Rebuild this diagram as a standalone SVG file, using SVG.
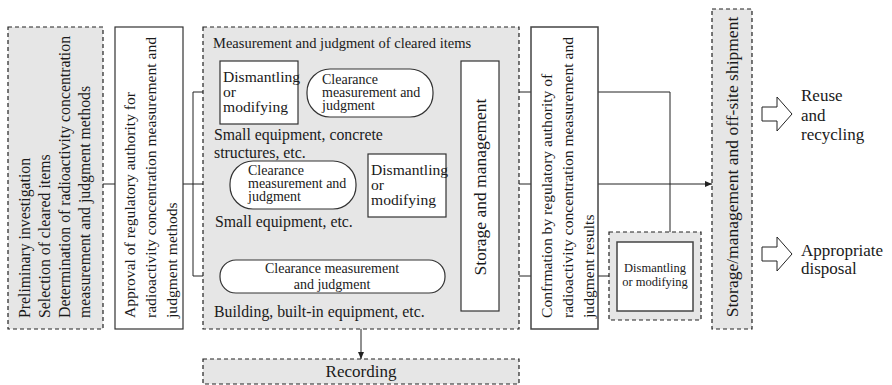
<svg xmlns="http://www.w3.org/2000/svg" width="892" height="385" viewBox="0 0 892 385" font-family="'Liberation Serif', 'DejaVu Serif', serif">
<style>
text{font-family:'Liberation Serif','DejaVu Serif',serif;fill:#1a1a1a}
.dash{fill:#e6e6e6;stroke:#222;stroke-width:1.2;stroke-dasharray:4 3}
.box{fill:#fff;stroke:#333;stroke-width:1.2}
.ln{fill:none;stroke:#222;stroke-width:1}
.t155{font-size:15.6px}
.t14{font-size:14px}
.t145{font-size:14.5px}
.t16{font-size:15.8px}
.t17{font-size:17px}
.t175{font-size:17.5px}
.t125{font-size:12.5px}
.barrow{fill:#fff;stroke:#222;stroke-width:1}
</style>
<defs>
<marker id="ah" markerWidth="8" markerHeight="6" refX="7" refY="3" orient="auto" markerUnits="userSpaceOnUse">
<path d="M0,0 L7,3 L0,6 Z" fill="#222"/>
</marker>
</defs>

<g id="connectors">
<line class="ln" x1="103" y1="184" x2="115" y2="184"/>
<line class="ln" x1="183" y1="184" x2="230" y2="184"/>
<line class="ln" x1="193" y1="92" x2="193" y2="276"/>
<line class="ln" x1="193" y1="92" x2="220" y2="92"/>
<line class="ln" x1="193" y1="276" x2="220" y2="276"/>
<line class="ln" x1="298" y1="92" x2="307" y2="92"/>
<line class="ln" x1="433" y1="92" x2="461" y2="92"/>
<line class="ln" x1="356" y1="184" x2="368" y2="184"/>
<line class="ln" x1="446" y1="184" x2="461" y2="184"/>
<line class="ln" x1="445" y1="276" x2="461" y2="276"/>
<line class="ln" x1="499" y1="92" x2="531" y2="92"/>
<line class="ln" x1="499" y1="184" x2="531" y2="184"/>
<line class="ln" x1="499" y1="276" x2="531" y2="276"/>
<polyline class="ln" points="598,92 670,92 670,232"/>
<line class="ln" x1="598" y1="184" x2="712" y2="184" marker-end="url(#ah)"/>
<line class="ln" x1="598" y1="276" x2="609" y2="276"/>
<line class="ln" x1="361" y1="329" x2="361" y2="359" marker-end="url(#ah)"/>
</g>

<g id="preliminary">
<rect class="dash" x="8" y="27" width="95" height="302"/>
<g class="t16">
<text transform="translate(30,318) rotate(-90)">Preliminary investigation</text>
<text transform="translate(50,318) rotate(-90)">Selection of cleared items</text>
<text transform="translate(70,318) rotate(-90)">Determination of radioactivity concentration</text>
<text transform="translate(90,318) rotate(-90)">measurement and judgment methods</text>
</g>
</g>

<g id="approval">
<rect class="box" x="115" y="27" width="68" height="302"/>
<g class="t155">
<text transform="translate(135,318) rotate(-90)">Approval of regulatory authority for</text>
<text transform="translate(156,318) rotate(-90)">radioactivity concentration measurement and</text>
<text transform="translate(177,318) rotate(-90)">judgment methods</text>
</g>
</g>

<g id="measurement-region">
<rect class="dash" x="203" y="27" width="316" height="302"/>
<text class="t145" x="213" y="48">Measurement and judgment of cleared items</text>
<text class="t16" x="214" y="140">Small equipment, concrete</text>
<text class="t16" x="214" y="158">structures, etc.</text>
<text class="t16" x="215" y="227">Small equipment, etc.</text>
<text class="t16" x="214" y="317">Building, built-in equipment, etc.</text>
</g>

<g id="dismantle-1">
<rect class="box" x="220" y="61" width="78" height="63"/>
<g class="t155">
<text x="223" y="82">Dismantling</text>
<text x="223" y="97">or</text>
<text x="223" y="112">modifying</text>
</g>
</g>

<g id="clearance-1">
<rect class="box" x="307" y="69" width="126" height="48" rx="23" ry="23"/>
<g class="t14">
<text x="322" y="84">Clearance</text>
<text x="322" y="97">measurement and</text>
<text x="322" y="110">judgment</text>
</g>
</g>

<g id="clearance-2">
<rect class="box" x="230" y="161" width="126" height="48" rx="23" ry="23"/>
<g class="t14">
<text x="248" y="175">Clearance</text>
<text x="248" y="188">measurement and</text>
<text x="248" y="201">judgment</text>
</g>
</g>

<g id="dismantle-2">
<rect class="box" x="368" y="154" width="78" height="63"/>
<g class="t155">
<text x="371" y="175">Dismantling</text>
<text x="371" y="190">or</text>
<text x="371" y="205">modifying</text>
</g>
</g>

<g id="clearance-3">
<rect class="box" x="220" y="260" width="225" height="33" rx="16" ry="16"/>
<g class="t14" text-anchor="middle">
<text x="332" y="273">Clearance measurement</text>
<text x="332" y="289">and judgment</text>
</g>
</g>

<g id="storage">
<rect class="box" x="461" y="61" width="38" height="250"/>
<text class="t175" text-anchor="middle" transform="translate(486,187) rotate(-90)">Storage and management</text>
</g>

<g id="confirmation">
<rect class="box" x="531" y="27" width="67" height="302" style="stroke:#444;stroke-width:1.5"/>
<g class="t155">
<text transform="translate(552,318) rotate(-90)">Confrmation by regulatory authority of</text>
<text transform="translate(573,318) rotate(-90)">radioactivity concentration measurement and</text>
<text transform="translate(594,318) rotate(-90)">judgment results</text>
</g>
</g>

<g id="dismantle-3">
<rect class="dash" x="609" y="232" width="92" height="88"/>
<rect class="box" x="617" y="242" width="76" height="69" style="stroke:#444;stroke-width:1.5"/>
<g class="t125" text-anchor="middle">
<text x="655" y="272">Dismantling</text>
<text x="655" y="286">or modifying</text>
</g>
</g>

<g id="shipment">
<rect class="dash" x="712" y="9" width="40" height="320"/>
<text class="t175" text-anchor="middle" transform="translate(738,167) rotate(-90)">Storage/management and off-site shipment</text>
</g>

<g id="reuse">
<path class="barrow" d="M762,107 H777 V97 L792,114 L777,131 V121 H762 Z"/>
<g class="t17">
<text x="801" y="101">Reuse</text>
<text x="801" y="120.5">and</text>
<text x="801" y="140">recycling</text>
</g>
</g>

<g id="disposal">
<path class="barrow" d="M762,247 H777 V237 L792,254 L777,271 V261 H762 Z"/>
<g class="t17">
<text x="801" y="256">Appropriate</text>
<text x="801" y="274">disposal</text>
</g>
</g>

<g id="recording">
<rect class="dash" x="203" y="359" width="316" height="25"/>
<text class="t17" x="361" y="377" text-anchor="middle">Recording</text>
</g>
</svg>
